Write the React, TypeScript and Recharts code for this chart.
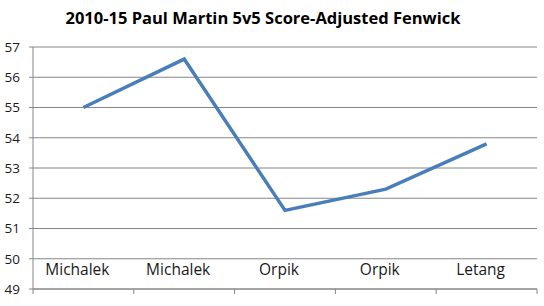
import React from "react";
import { LineChart, Line, XAxis, YAxis, CartesianGrid } from "recharts";

const categories = ["Michalek", "Michalek", "Orpik", "Orpik", "Letang"];
const fenwick = [55, 56.6, 51.6, 52.3, 53.8];
const yTicks = [49, 50, 51, 52, 53, 54, 55, 56, 57];

const data = categories.map((name, i) => ({ pos: i + 0.5, name, value: fenwick[i] }));
const xTicks: number[] = [];
for (let i = 0; i <= categories.length * 2; i++) xTicks.push(i / 2);

const FONT = "'Open Sans', 'Noto Sans', sans-serif";

const XTick = (props: any) => {
  const { x, y, payload } = props;
  const v = payload.value as number;
  if (Number.isInteger(v)) {
    return <line x1={x} y1={y} x2={x} y2={y + 5} stroke="#868686" strokeWidth={1} />;
  }
  const idx = Math.round(v - 0.5);
  return (
    <text x={x - 6} y={y - 14} textAnchor="middle" fill="#1a1a1a" fontSize={15.5} fontFamily={FONT}>
      {categories[idx]}
    </text>
  );
};

export default function App() {
  return (
    <div style={{ position: "absolute", left: 0, top: 0, width: 544, height: 306, background: "#fff" }}>
      <div
        style={{
          position: "absolute",
          left: -9,
          top: 6,
          width: 544,
          textAlign: "center",
          fontFamily: FONT,
          fontWeight: 700,
          fontSize: 16.5,
          color: "#000",
        }}
      >
        2010-15 Paul Martin 5v5 Score-Adjusted Fenwick
      </div>
      <LineChart width={544} height={306} data={data} margin={{ top: 47, right: 7, bottom: 0, left: 0 }}>
        <CartesianGrid horizontal vertical={false} stroke="#868686" strokeWidth={1} />
        <XAxis
          dataKey="pos"
          type="number"
          domain={[0, categories.length]}
          ticks={xTicks}
          interval={0}
          tickLine={false}
          tickSize={0}
          tickMargin={0}
          height={17}
          axisLine={{ stroke: "#868686" }}
          tick={<XTick />}
        />
        <YAxis
          domain={[49, 57]}
          ticks={yTicks}
          interval={0}
          width={33}
          tickSize={4}
          tickMargin={9}
          axisLine={{ stroke: "#868686" }}
          tickLine={{ stroke: "#868686" }}
          tick={{ fill: "#1a1a1a", fontSize: 13.5, fontFamily: FONT }}
        />
        <Line
          dataKey="value"
          stroke="#4A7EBB"
          strokeWidth={3.5}
          dot={false}
          isAnimationActive={false}
          type="linear"
        />
      </LineChart>
    </div>
  );
}
